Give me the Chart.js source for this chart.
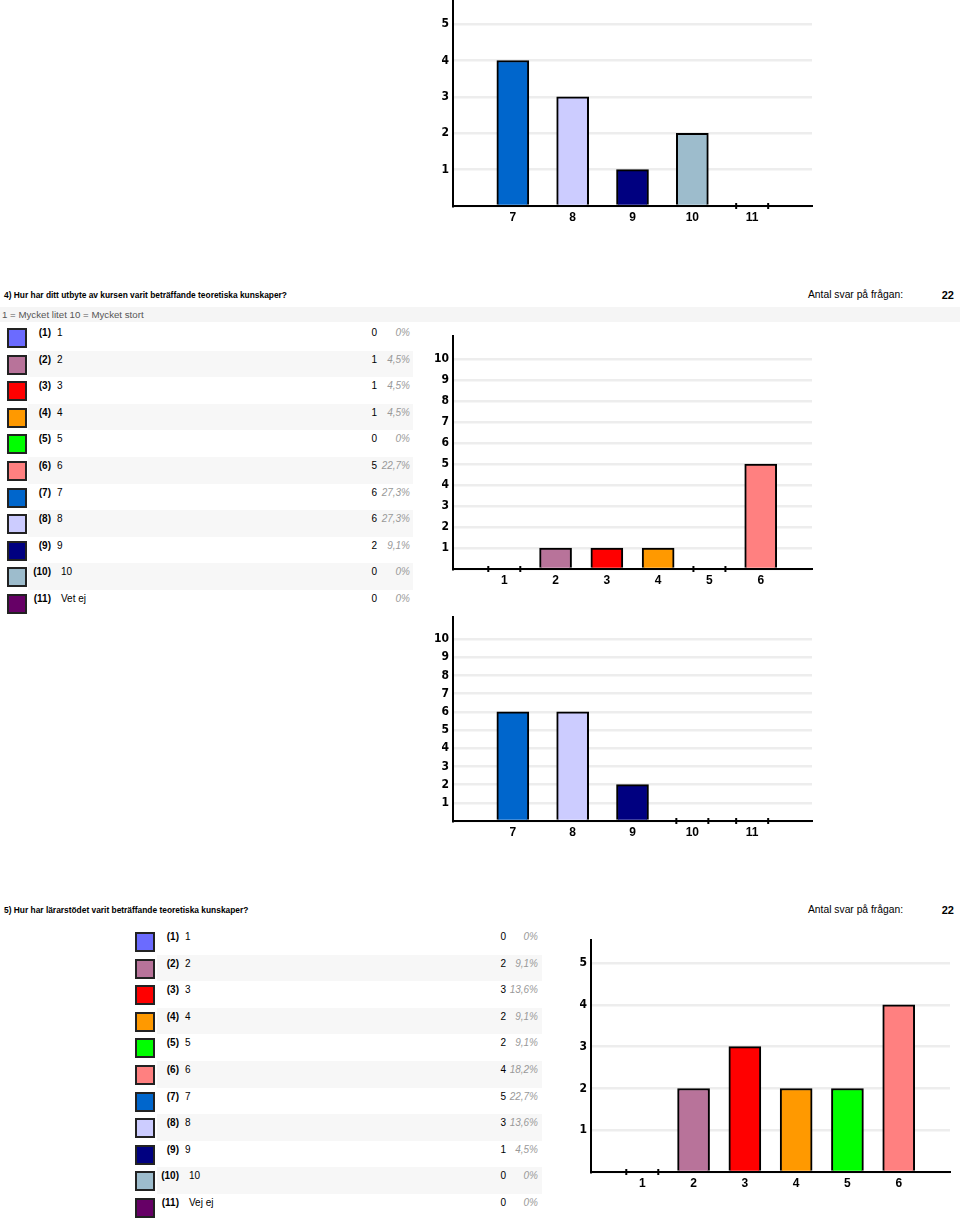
<!DOCTYPE html>
<html>
<head>
<meta charset="utf-8">
<script src="https://cdn.jsdelivr.net/npm/chart.js@4.4.0/dist/chart.umd.min.js"></script>
<style>
body { margin:0; width:960px; height:1219px; position:relative; overflow:hidden; background:#fff;
       font-family:"Liberation Sans", Arial, sans-serif; color:#000; }
.qhead { position:absolute; left:4px; font-weight:bold; font-size:8.4px; line-height:10px; white-space:nowrap; }
.antal { position:absolute; left:808px; font-size:10.3px; line-height:12px; white-space:nowrap; }
.total { position:absolute; left:930px; width:24px; text-align:right; font-weight:bold; font-size:11px; line-height:12px; }
.sub { position:absolute; left:0; width:958px; height:15px; background:#f5f5f5; color:#555;
       font-size:9.7px; line-height:15px; padding-left:2px; white-space:nowrap; }
.stripe { position:absolute; background:#f7f7f7; }
.sw { position:absolute; width:16px; height:16px; border:2px solid #222; }
.txt { position:absolute; font-size:10px; line-height:12px; white-space:nowrap; }
.num { font-weight:bold; text-align:right; }
.cnt { text-align:right; }
.pct { text-align:right; font-style:italic; color:#999; }
canvas { position:absolute; }
</style>
</head>
<body>

<div class="qhead" style="top:290px">4) Hur har ditt utbyte av kursen varit beträffande teoretiska kunskaper?</div>
<div class="antal" style="top:289px">Antal svar på frågan:</div>
<div class="total" style="top:289px">22</div>
<div class="sub" style="top:307px">1 = Mycket litet 10 = Mycket stort</div>

<div class="qhead" style="top:905px">5) Hur har lärarstödet varit beträffande teoretiska kunskaper?</div>
<div class="antal" style="top:904px">Antal svar på frågan:</div>
<div class="total" style="top:904px">22</div>

<div id="legend4"></div>
<div id="legend5"></div>

<canvas id="c1" width="414" height="246" style="left:408px; top:-10px"></canvas>
<canvas id="c2" width="414" height="274" style="left:408px; top:325px"></canvas>
<canvas id="c3" width="414" height="245" style="left:408px; top:606px"></canvas>
<canvas id="c4" width="414" height="273" style="left:546px; top:929px"></canvas>

<script>
var colors = ["#6b6bff", "#b8739a", "#ff0000", "#ff9900", "#00ff00", "#ff8080",
              "#0066cc", "#ccccff", "#000080", "#9dbccc", "#660066"];

// previous question, only the lower chart is visible (alternatives 7-11)
var prevCats = ["7", "8", "9", "10", "11"];
var prevCounts = [4, 3, 1, 2, 0];

// question 4
var q4Labels = ["1", "2", "3", "4", "5", "6", "7", "8", "9", "10", "Vet ej"];
var q4Counts = [0, 1, 1, 1, 0, 5, 6, 6, 2, 0, 0];
var q4Percent = ["0%", "4,5%", "4,5%", "4,5%", "0%", "22,7%", "27,3%", "27,3%", "9,1%", "0%", "0%"];

// question 5
var q5Labels = ["1", "2", "3", "4", "5", "6", "7", "8", "9", "10", "Vej ej"];
var q5Counts = [0, 2, 3, 2, 2, 4, 5, 3, 1, 0, 0];
var q5Percent = ["0%", "9,1%", "13,6%", "9,1%", "9,1%", "18,2%", "22,7%", "13,6%", "4,5%", "0%", "0%"];

var barCats1 = ["1", "2", "3", "4", "5", "6"];
var barCats2 = ["7", "8", "9", "10", "11"];

function addDiv(parent, cls, style, text) {
    var d = document.createElement("div");
    d.className = cls;
    d.setAttribute("style", style);
    if (text !== undefined) d.textContent = text;
    parent.appendChild(d);
}

function buildLegend(id, labels, counts, percent, pos) {
    var el = document.getElementById(id);
    for (var i = 0; i < labels.length; i++) {
        var top = pos.top + i * 26.6;
        if (i % 2 == 1) {
            addDiv(el, "stripe", "left:" + pos.stripeLeft + "px;width:" + (pos.stripeRight - pos.stripeLeft) +
                "px;top:" + top + "px;height:26.6px");
        }
        addDiv(el, "sw", "left:" + pos.swLeft + "px;top:" + (top + 4) + "px;background:" + colors[i]);
        var t = top + 3;
        addDiv(el, "txt num", "left:" + (pos.numRight - 40) + "px;width:40px;top:" + t + "px", "(" + (i + 1) + ")");
        var labLeft = i >= 9 ? pos.labLeft + 4 : pos.labLeft;
        addDiv(el, "txt", "left:" + labLeft + "px;top:" + t + "px", labels[i]);
        addDiv(el, "txt cnt", "left:" + (pos.cntRight - 30) + "px;width:30px;top:" + t + "px", counts[i]);
        addDiv(el, "txt pct", "left:" + (pos.pctRight - 40) + "px;width:40px;top:" + t + "px", percent[i]);
    }
}

buildLegend("legend4", q4Labels, q4Counts, q4Percent,
    { top: 324, swLeft: 7, stripeLeft: 28, stripeRight: 413, numRight: 51, labLeft: 57, cntRight: 377, pctRight: 410 });
buildLegend("legend5", q5Labels, q5Counts, q5Percent,
    { top: 928, swLeft: 135, stripeLeft: 157, stripeRight: 542, numRight: 179, labLeft: 185, cntRight: 506, pctRight: 538 });

// little marks on the x axis where a bar is zero
var zeroMarks = {
    id: "zeroMarks",
    afterDatasetsDraw: function(chart) {
        var ctx = chart.ctx;
        var data = chart.data.datasets[0].data;
        var base = chart.scales.y.getPixelForValue(0);
        ctx.save();
        ctx.strokeStyle = "#000";
        ctx.lineWidth = 2;
        chart.getDatasetMeta(0).data.forEach(function(bar, i) {
            if (data[i] !== 0) return;
            [bar.x - bar.width / 2, bar.x + bar.width / 2].forEach(function(x) {
                ctx.beginPath();
                ctx.moveTo(x, base - 3);
                ctx.lineTo(x, base + 3);
                ctx.stroke();
            });
        });
        ctx.restore();
    }
};

function barChart(id, cats, values, barColors, yMax, lastTick) {
    new Chart(document.getElementById(id), {
        type: "bar",
        data: {
            labels: [""].concat(cats, [""]),
            datasets: [{
                data: [null].concat(values, [null]),
                backgroundColor: ["transparent"].concat(barColors, ["transparent"]),
                borderColor: "#000",
                borderWidth: 2,
                barThickness: 32
            }]
        },
        plugins: [zeroMarks],
        options: {
            responsive: false,
            animation: false,
            devicePixelRatio: 1,
            layout: { padding: { top: 10, right: 10, left: 0, bottom: 0 } },
            plugins: { legend: { display: false }, tooltip: { enabled: false } },
            scales: {
                x: {
                    offset: false,
                    grid: { display: false, drawTicks: false },
                    border: { display: true, color: "#000", width: 2 },
                    ticks: {
                        autoSkip: false, maxRotation: 0, padding: 4, color: "#000",
                        font: { family: "'Liberation Sans', Arial, sans-serif", size: 12, weight: "bold" }
                    },
                    afterFit: function(scale) { scale.height = 30; }
                },
                y: {
                    min: 0,
                    max: yMax,
                    grid: { color: "#ededed", lineWidth: 2.5, drawTicks: false },
                    border: { display: true, color: "#000", width: 2 },
                    ticks: {
                        stepSize: 1, includeBounds: false, padding: 4, color: "#000",
                        font: { family: "'Liberation Sans Narrow', 'DejaVu Sans Condensed', sans-serif", size: 12, weight: "bold" },
                        callback: function(v) { return v === 0 ? "" : v; }
                    },
                    afterBuildTicks: function(scale) {
                        scale.ticks = scale.ticks.filter(function(t) { return t.value <= lastTick; });
                    },
                    afterFit: function(scale) { scale.width = 45; }
                }
            }
        }
    });
}

barChart("c1", prevCats, prevCounts, colors.slice(6, 11), 5.63, 5);
barChart("c2", barCats1, q4Counts.slice(0, 6), colors.slice(0, 6), 11.1, 10);
barChart("c3", barCats2, q4Counts.slice(6, 11), colors.slice(6, 11), 11.2, 10);
barChart("c4", barCats1, q5Counts.slice(0, 6), colors.slice(0, 6), 5.55, 5);
</script>
</body>
</html>
